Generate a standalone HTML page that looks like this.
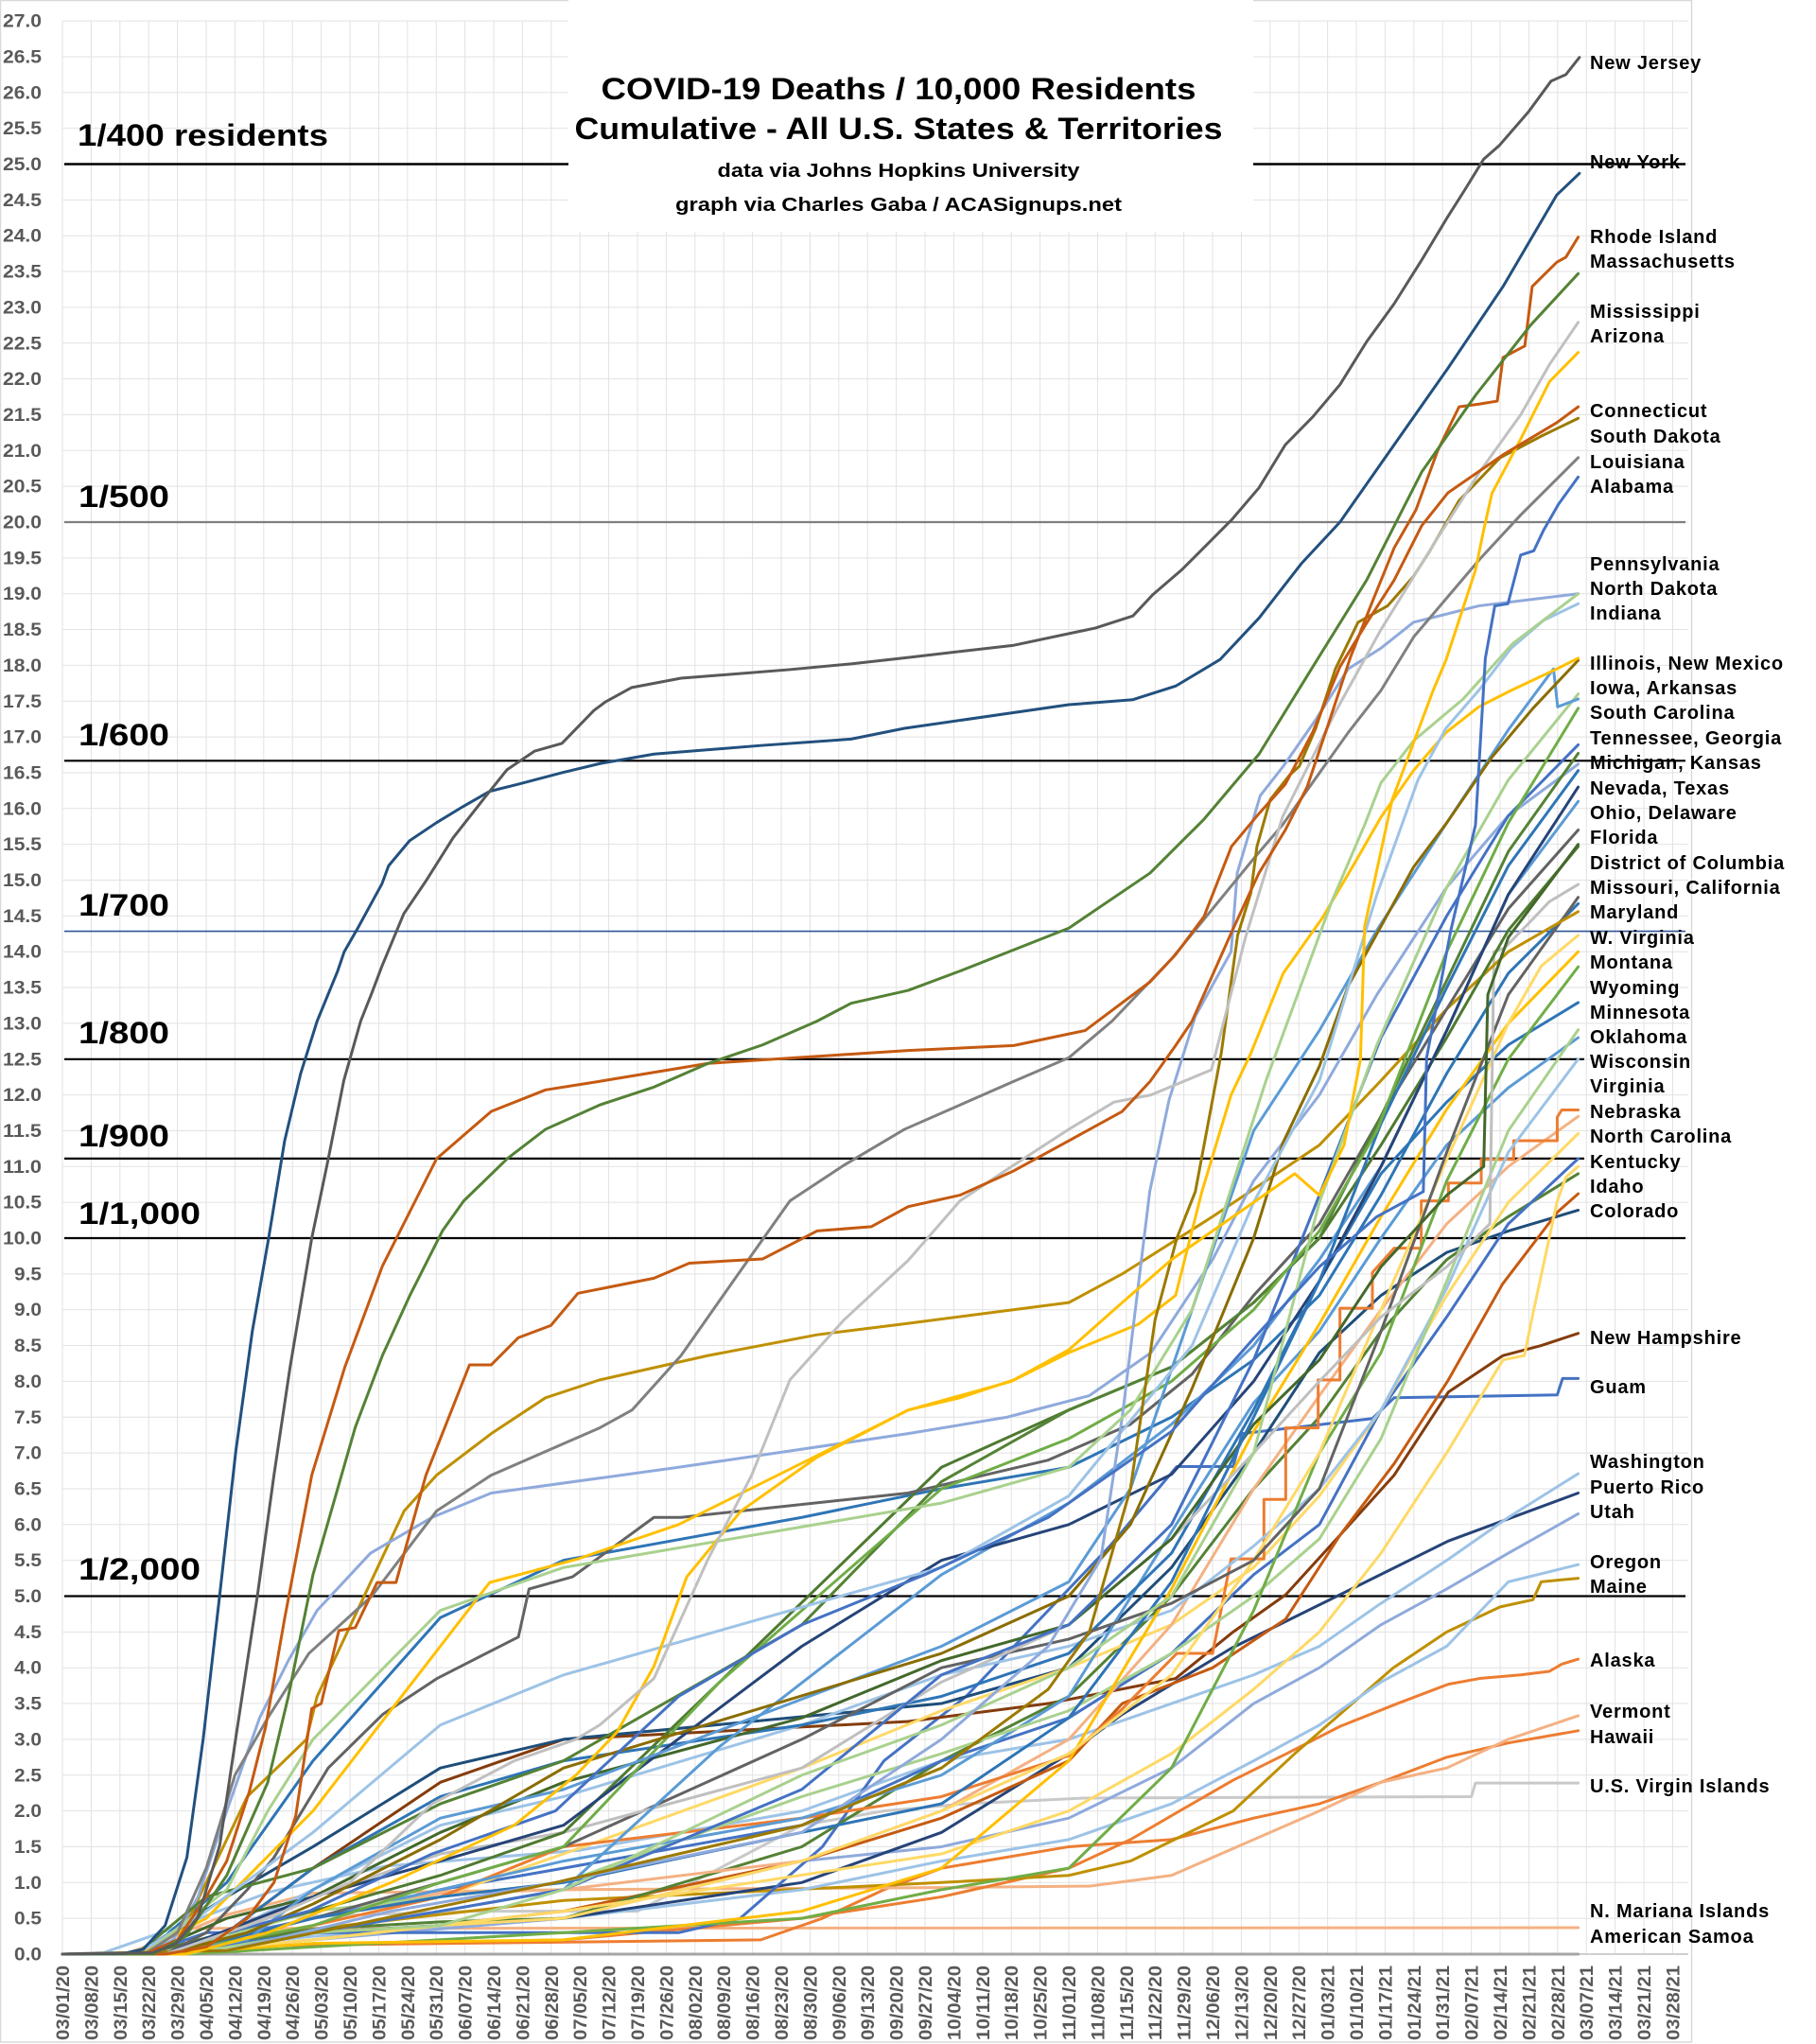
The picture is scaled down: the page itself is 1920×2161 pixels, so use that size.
<!DOCTYPE html>
<html><head><meta charset="utf-8"><style>
html,body{margin:0;padding:0;background:#fff;width:1920px;height:2161px;overflow:hidden}
svg{display:block;font-family:"Liberation Sans",Arial,sans-serif}
.g path,.s polyline{vector-effect:non-scaling-stroke}
.s polyline{fill:none;stroke-width:3;stroke-linejoin:round;stroke-linecap:round}
.yl text{font-size:19px;font-weight:bold;fill:#595959;text-anchor:end}
.xl text{font-size:19px;font-weight:bold;fill:#595959;text-anchor:end}
.rl text{font-size:20px;font-weight:bold;fill:#000;letter-spacing:0.8px}
.ll text{font-size:32px;font-weight:bold;fill:#000}
</style></head><body>
<svg width="1920" height="2161" viewBox="0 0 1920 2161" xmlns="http://www.w3.org/2000/svg">
<rect x="0" y="0" width="1920" height="2161" fill="#fff"/>
<rect x="0.5" y="0.5" width="1788" height="2158.5" fill="none" stroke="#d9d9d9" stroke-width="1.5"/>
<g class="g" transform="translate(66 2066) scale(4.343 -75.7)" fill="none" stroke="#e2e2e2" stroke-width="1">
<path d="M0,0.5H395.8M0,1H395.8M0,1.5H395.8M0,2H395.8M0,2.5H395.8M0,3H395.8M0,3.5H395.8M0,4H395.8M0,4.5H395.8M0,5H395.8M0,5.5H395.8M0,6H395.8M0,6.5H395.8M0,7H395.8M0,7.5H395.8M0,8H395.8M0,8.5H395.8M0,9H395.8M0,9.5H395.8M0,10H395.8M0,10.5H395.8M0,11H395.8M0,11.5H395.8M0,12H395.8M0,12.5H395.8M0,13H395.8M0,13.5H395.8M0,14H395.8M0,14.5H395.8M0,15H395.8M0,15.5H395.8M0,16H395.8M0,16.5H395.8M0,17H395.8M0,17.5H395.8M0,18H395.8M0,18.5H395.8M0,19H395.8M0,19.5H395.8M0,20H395.8M0,20.5H395.8M0,21H395.8M0,21.5H395.8M0,22H395.8M0,22.5H395.8M0,23H395.8M0,23.5H395.8M0,24H395.8M0,24.5H395.8M0,25H395.8M0,25.5H395.8M0,26H395.8M0,26.5H395.8M0,27H395.8"/>
<path d="M0,0V27M7,0V27M14,0V27M21,0V27M28,0V27M35,0V27M42,0V27M49,0V27M56,0V27M63,0V27M70,0V27M77,0V27M84,0V27M91,0V27M98,0V27M105,0V27M112,0V27M119,0V27M126,0V27M133,0V27M140,0V27M147,0V27M154,0V27M161,0V27M168,0V27M175,0V27M182,0V27M189,0V27M196,0V27M203,0V27M210,0V27M217,0V27M224,0V27M231,0V27M238,0V27M245,0V27M252,0V27M259,0V27M266,0V27M273,0V27M280,0V27M287,0V27M294,0V27M301,0V27M308,0V27M315,0V27M322,0V27M329,0V27M336,0V27M343,0V27M350,0V27M357,0V27M364,0V27M371,0V27M378,0V27M385,0V27M392,0V27"/>
<path d="M0,0H395.8" stroke="#bfbfbf" stroke-width="1.5"/>
</g>
<!-- reference lines -->
<g stroke-width="2.2">
<line x1="68" y1="173.5" x2="1782" y2="173.5" stroke="#000" stroke-width="2.6"/>
<line x1="68" y1="552" x2="1782" y2="552" stroke="#7f7f7f"/>
<line x1="68" y1="804.3" x2="1782" y2="804.3" stroke="#000"/>
<line x1="68" y1="984.6" x2="1782" y2="984.6" stroke="#2f5597" stroke-width="1.6"/>
<line x1="68" y1="1119.8" x2="1675" y2="1119.8" stroke="#000"/>
<line x1="68" y1="1224.9" x2="1675" y2="1224.9" stroke="#000"/>
<line x1="68" y1="1309" x2="1782" y2="1309" stroke="#000"/>
<line x1="68" y1="1687.5" x2="1782" y2="1687.5" stroke="#000"/>
</g>
<g class="s" transform="translate(66 2066) scale(4.343 -75.7)">
<polyline stroke="#a5a5a5" points="0,0 369,0"/>
<polyline stroke="#f4b183" points="0,0 29,0 30,0.36 369,0.37"/>
<polyline stroke="#c9c9c9" points="0,0 30,0 35,0.1 45,0.5 100,0.6 140,0.6 160,1.2 180,1.8 200,2 220,2.1 249,2.18 343,2.2 344,2.39 369,2.39"/>
<polyline stroke="#ed7d31" points="0,0 20,0 30,0.05 50,0.12 170,0.2 185,0.5 200,0.9 214,1.2 245,1.5 270,1.6 290,1.9 306,2.1 321,2.4 337,2.75 352,2.95 369,3.12"/>
<polyline stroke="#f4b183" points="0,0 15,0 25,0.2 40,0.55 61,0.85 122,0.9 214,0.93 250,0.95 270,1.1 290,1.6 306,2 321,2.4 337,2.6 352,3 369,3.33"/>
<polyline stroke="#ed7d31" points="0,0 25,0 35,0.1 122,0.2 180,0.5 214,0.8 245,1.2 260,1.6 272,2 285,2.43 298,2.8 311,3.18 325,3.5 337.4,3.77 345,3.85 355,3.9 362,3.95 365,4.05 369,4.12"/>
<polyline stroke="#bf9000" points="0,0 20,0 40,0.2 61,0.35 122,0.75 214,1 245,1.1 260,1.3 285,2 300,2.8 312,3.4 324,4 337,4.5 350,4.85 358,4.95 360,5.2 369,5.25"/>
<polyline stroke="#9dc3e6" points="0,0 20,0 61,0.25 122,0.5 180,0.9 214,1.3 245,1.6 270,2.1 290,2.7 306,3.2 321,3.8 337,4.3 352,5.2 369,5.44"/>
<polyline stroke="#8faadc" points="0,0 25,0 61,0.2 122,0.5 180,1.3 214,1.5 245,1.9 270,2.6 290,3.5 306,4 321,4.6 337,5.1 352,5.6 369,6.15"/>
<polyline stroke="#264478" points="0,0 20,0 40,0.1 61,0.3 122,0.5 180,1 214,1.7 245,2.8 258,3.35 284.5,4.27 311,5.02 337.4,5.77 369,6.44"/>
<polyline stroke="#9dc3e6" points="0,0 10,0.02 24,0.3 50.6,0.87 78.8,1.23 125.8,1.45 180,2 214,2.7 245,3 270,3.5 290,3.9 306,4.3 321,4.9 337,5.5 352,6.1 369,6.71"/>
<polyline stroke="#4472c4" points="0,0 20,0 35,0.3 150,0.3 165,0.5 185,1.5 200,2.7 220,3.6 240,4.8 255,5.7 271.3,6.81 285,6.81 287.2,7.27 318.9,7.48 324.2,7.77 363.9,7.81 365.2,8.04 369,8.04"/>
<polyline stroke="#843c0c" points="0,0 20,0 40,0.3 61,1.2 92,2.4 122,3 206,3.25 240,3.5 271,3.85 285,4.5 297.8,5.02 311,5.85 324.2,6.69 337.4,7.85 350.7,8.36 360,8.5 369,8.67"/>
<polyline stroke="#1f4e79" points="0,0 18,0 40,0.8 61,1.5 92,2.6 122,3 214,3.5 245,4 270,5.4 290,7 306,8.4 321,9.2 337,9.8 352,10.1 369,10.39"/>
<polyline stroke="#c55a11" points="0,0 25,0 61,0.2 122,0.6 180,1.3 214,1.9 245,2.7 258,3.5 280,4 297.8,4.68 311,5.85 324.2,6.85 337.4,8.02 350.6,9.36 363.9,10.36 369,10.62"/>
<polyline stroke="#548235" points="0,0 25,0 61,0.35 92,0.45 122,0.5 180,1.5 214,2.7 245,3.6 270,5 290,6.5 306,7.5 321,8.7 337,9.7 352,10.3 369,10.9"/>
<polyline stroke="#ffd966" points="0,0 25,0 61,0.2 122,0.6 214,1.4 245,2 270,2.8 290,3.7 306,4.5 321,5.6 337,7 350.7,8.3 355.9,8.36 358,8.95 363.9,10.52 366,10.85 369,11"/>
<polyline stroke="#4472c4" points="0,0 20,0 61,0.5 92,0.9 122,1.2 180,1.8 214,2.7 245,3.3 270,4.2 290,5.3 306,6 321,7.6 337,8.9 352,10.2 369,11.11"/>
<polyline stroke="#ffd966" points="0,0 20,0 61,0.4 92,0.8 122,1.4 180,2.6 214,3.4 245,4 270,4.6 290,5.4 306,6.4 321,7.6 337,9.2 352,10.5 369,11.46"/>
<polyline stroke="#f4b183" points="0,0 25,0 61,0.5 92,0.85 122,0.9 180,1.3 214,2 245,3 270,4.6 290,6.5 306,7.8 321,9 337,10.2 352,11 369,11.7"/>
<polyline stroke="#ed7d31" points="0,0 25,0 61,0.4 92,0.8 122,1.5 180,1.9 214,2.2 244.9,2.77 258.1,3.43 271.3,4.2 280,4.2 284.5,5.52 292.5,5.52 292.5,6.35 297.8,6.35 297.8,7.35 305.7,7.35 305.7,8.02 311,8.02 311,9.02 318.9,9.02 318.9,9.52 324.2,9.86 330.8,9.86 330.8,10.52 337.4,10.52 337.4,10.77 345.4,10.77 345.4,11.1 353.3,11.1 353.3,11.36 363.9,11.36 363.9,11.69 365,11.79 369,11.79"/>
<polyline stroke="#9dc3e6" points="0,0 20,0 40,0.3 61,0.9 92,1.8 122,2.2 180,3.2 214,3.9 245,4.3 270,4.8 290,5.7 306,6.5 321,7.6 337,9.3 352,11.2 369,12.5"/>
<polyline stroke="#5b9bd5" points="0,0 25,0 61,0.5 92,0.9 122,1.3 180,1.9 214,2.5 245,3.6 270,5.9 290,7.7 306,8.7 321,10 337,11.3 352,12.1 369,12.8"/>
<polyline stroke="#a9d18e" points="0,0 25,0 61,0.6 92,0.8 122,1 180,2.2 214,2.8 245,3.4 270,4.2 290,5 306,5.8 321,7.2 337,9.4 352,11.5 369,12.91"/>
<polyline stroke="#2e75b6" points="0,0 20,0 40,0.3 61,1.2 92,2.2 122,2.7 180,3.2 214,3.6 245,4.2 270,5.6 290,7.6 306,9.4 321,10.9 337,11.9 352,12.7 369,13.29"/>
<polyline stroke="#70ad47" points="0,0 30,0 61,0.1 122,0.3 180,0.5 214,0.9 245,1.2 270,2.6 290,4.8 306,7 321,8.4 337,10.8 352,12.5 369,13.79"/>
<polyline stroke="#ffc000" points="0,0 25,0 61,0.15 122,0.2 180,0.6 214,1.2 245,2.7 270,5.1 290,7.3 306,8.8 321,10.3 337,11.8 352,13 369,14"/>
<polyline stroke="#ffd966" points="0,0 25,0 61,0.2 92,0.4 122,0.5 180,1.3 214,2 245,2.8 270,3.9 290,5.5 306,7 321,9 337,11.1 352,13 360,13.8 369,14.23"/>
<polyline stroke="#2e75b6" points="0,0 20,0 40,1 61,2.7 92,4.7 122,5.5 180,6.1 214,6.5 245,6.8 270,7.5 290,8.3 306,9.2 321,10.6 337,12.3 352,13.7 369,14.67"/>
<polyline stroke="#636363" points="0,0 22,0 40,0.2 61,0.5 92,1 122,1.5 180,3 214,4 245,4.4 270,4.9 290,5.5 306,6.5 321,8.7 337,11.2 352,13.4 369,14.76"/>
<polyline stroke="#bfbfbf" points="0,0 22,0 40,0.3 61,0.8 92,1.4 122,1.7 180,2.6 214,3.8 245,4.6 270,5.8 290,7 306,8 321,8.9 337,9.6 347.5,10.2 348.5,14 351,14.05 357,14.4 362,14.7 369,14.94"/>
<polyline stroke="#bf9000" points="0,0 20,0 30,0.4 45,2.2 59.4,3 62,3.6 83.2,6.19 91.1,6.69 104.4,7.27 117.6,7.77 130.8,8.02 157.2,8.36 183.7,8.65 205.9,8.81 245,9.1 258,9.5 280,10.3 306,11.3 321,12.2 337,13.2 352,14 369,14.56"/>
<polyline stroke="#4e7a30" points="0,0 20,0 40,0.3 61,0.6 92,1.1 122,1.7 160,3.8 214,6.8 245,7.6 270,8.2 290,9.1 306,10 321,11.3 337,12.8 352,14.3 369,15.47"/>
<polyline stroke="#636363" points="0,0 25,0 35,0.3 45,0.9 51.5,1.35 64.7,2.6 78,3.35 91.2,3.85 111,4.43 113.6,5.1 124.2,5.27 144,6.1 150.6,6.1 205.9,6.44 240,6.9 260,7.4 275,8.1 290,9.2 306,10.2 321,11.7 337,13.2 352,14.6 369,15.7"/>
<polyline stroke="#43682b" points="0,0 20,0 40,0.5 61,0.8 92,1.7 122,2.4 180,3.3 214,4.1 245,4.6 270,5.8 290,7.4 306,8.3 321,9.6 337,10.6 346,11 347,13.4 352,14.2 369,15.5"/>
<polyline stroke="#5b9bd5" points="0,0 25,0 61,0.3 92,0.6 122,0.9 160,2.9 214,5.3 245,6.3 270,7.4 290,8.5 306,9.7 321,11 337,12.9 352,14.8 369,16.1"/>
<polyline stroke="#264478" points="0,0 25,0 61,0.8 92,1.3 122,1.8 180,4.3 214,5.5 245,6 270,6.7 290,8 306,9.4 321,11 337,12.9 352,14.8 369,16.3"/>
<polyline stroke="#2e75b6" points="0,0 25,0 61,0.5 92,0.8 122,1 180,1.7 214,2.1 245,3.3 270,5.2 290,7.5 306,9.4 321,11.6 337,13.5 352,15.2 369,16.53"/>
<polyline stroke="#8faadc" points="0,0 20,0 27,0.2 33,0.8 40,2 48,3.3 55,4.1 62,4.8 75,5.6 90,6.1 104.4,6.44 150,6.8 205.9,7.27 230,7.5 250,7.8 265,8.4 280,9.7 290,10.8 306,12 320,13.4 337,14.9 352,15.9 369,16.62"/>
<polyline stroke="#548235" points="0,0 18,0 35,0.8 61,1.2 92,2.1 122,2.7 180,4.6 214,6.6 245,7.6 270,8.2 290,9.1 306,10 321,11.7 337,13.6 352,15.4 369,16.77"/>
<polyline stroke="#4472c4" points="0,0 25,0 61,0.3 92,0.6 122,0.9 180,2.3 214,3.9 245,4.6 270,6 290,8.3 306,10.6 321,12.8 337,14.5 352,15.9 369,16.89"/>
<polyline stroke="#70ad47" points="0,0 25,0 61,0.4 92,1 122,1.5 160,3.8 214,6.5 245,7.2 270,8 290,9 306,10.1 320,11.5 337,14 352,15.8 369,17.4"/>
<polyline stroke="#a9d18e" points="0,0 30,0 61,0.3 92,0.4 122,0.9 180,2.5 214,3.2 245,4 270,5 290,7 306,10.5 320,12.7 337,14.9 352,16.4 369,17.6"/>
<polyline stroke="#5b9bd5" points="0,0 25,0 45,0.2 61,0.9 92,1.9 122,2.3 214,4.3 245,5.2 260,6.5 275,9 290,11.5 306,12.9 320,14.3 337,15.8 352,17.1 363,17.95 364,17.42 369,17.53"/>
<polyline stroke="#8a6d00" points="0,0 25,0 45,0.3 61,0.7 92,1.6 122,2.6 214,4.2 245,5 260,6 275,7.9 290,10 297.2,11.34 306,12.4 313,13.52 328.9,15.18 337,15.8 347.9,16.71 358,17.4 369,18.07"/>
<polyline stroke="#ffc000" points="0,0 18,0 35,0.5 61,2 92,4.3 104,5.19 125.5,5.52 150,6 206,7.6 231,8 245,8.4 262,8.8 271,9.2 277.4,10.65 284.5,12 289.3,12.58 297.2,13.7 306.7,14.47 314.6,15.24 321,15.88 328.9,16.53 336.8,17.06 344.8,17.42 352.7,17.65 363.8,17.95 369,18.1"/>
<polyline stroke="#9dc3e6" points="0,0 18,0 35,0.6 61,1.7 92,3.2 122,3.9 214,5.4 245,6.4 275,8.5 290,10.5 306,12.2 320,14.8 330,16.4 336.8,17.12 344.8,17.65 352.7,18.24 360.6,18.63 369,18.86"/>
<polyline stroke="#8faadc" points="0,0 40,0.05 80,0.6 120,1 180,1.7 214,3 240,4.3 252.8,5.52 258,7.5 264.7,10.65 269.4,11.93 275.8,13.1 284.5,14 286,15.1 291.6,16.18 297.2,16.59 305.1,17.24 313,17.95 321,18.24 328.9,18.6 344.8,18.83 369,19"/>
<polyline stroke="#a9d18e" points="0,0 20,0 40,0.9 50,2 61,3 92,4.8 122,5.4 214,6.3 245,6.8 260,7.6 275,9 293,12.2 309,14.7 317,15.77 321,16.36 329,16.95 341,17.53 353,18.3 369,19"/>
<polyline stroke="#4472c4" points="0,0 25,0 40,0.3 60,0.6 90,1.4 120,2 150,3.6 180,4.6 210,5.3 240,6.1 270,7.3 290,8.6 306,9.6 320,10.3 331.3,10.65 332.1,12.52 338,14.3 344,15.77 346.4,18.1 348.7,18.83 351.9,18.86 355,19.54 358.2,19.6 360.6,19.89 364.2,20.25 369,20.63"/>
<polyline stroke="#808080" points="0,0 20,0 28,0.3 35,1.2 42,2.5 50,3.3 60,4.2 75.3,5 91.1,6.19 104.4,6.69 117.6,7.02 130.8,7.35 138.7,7.6 150.6,8.36 163.8,9.44 177.1,10.52 190.3,11.02 205,11.52 218.5,11.86 231.6,12.19 245,12.52 255.5,13.03 270,13.9 290,15.3 297,15.77 313,17.06 321,17.65 329,18.4 345,19.48 355,20.1 369,20.9"/>
<polyline stroke="#9c7a00" points="0,0 40,0.05 70,0.4 120,1 180,1.8 214,2.6 240,3.7 250,4.5 260,6.5 266,8.86 271.3,10 275.8,10.65 282.1,12.58 286.1,14.23 289.3,14.82 290.8,15.47 294,16.12 298.8,16.47 301.1,16.59 305.1,17.12 309.9,17.95 315.4,18.6 322.6,18.83 328.9,19.24 332.9,19.6 340,20.3 350,20.9 360,21.2 369,21.45"/>
<polyline stroke="#ffc000" points="0,0 30,0 50,0.3 80,1 110,1.8 125,2.5 135,3.1 144,4.02 152,5.27 165.2,6.19 183.7,6.94 205.9,7.6 218.5,7.77 231.6,8.02 245,8.44 258,9.1 270,9.7 285,10.3 300,10.9 306,10.6 312,11.3 316,12.5 317,14.35 323.7,16.12 333.7,17.65 336.8,18.07 344,19.33 346,19.89 348,20.4 355,21.16 362,21.96 369,22.37"/>
<polyline stroke="#c0c0c0" points="0,0 25,0 35,0.2 50,0.5 70,1 90,2.1 110,2.7 125,3 130.8,3.2 144,3.85 157.2,5.52 167.8,6.69 177.1,8.02 190.3,8.86 205.9,9.69 218.5,10.52 231.6,11.02 245,11.52 256,11.9 265,12 279.7,12.35 288,14.2 297,15.88 310,17.36 321,18.5 335,19.8 345,20.7 355,21.5 362,22.2 369,22.79"/>
<polyline stroke="#c55a11" points="0,0 25,0 35,0.1 45,0.5 51.5,1 56.8,1.93 60.7,3.43 63,3.5 67.3,4.52 71.3,4.56 76.6,5.19 81.2,5.19 88.5,6.69 99.1,8.23 104.4,8.23 111,8.61 118.9,8.78 125.5,9.23 144,9.44 152.6,9.65 170.5,9.71 183.7,10.1 196.9,10.16 205.9,10.44 218.5,10.6 231.6,10.94 245,11.36 258,11.77 264.8,12.19 271,12.69 275,13.03 284.6,14.27 291.3,15.1 297.7,15.7 303,16.3 308.3,17.2 313.6,18.12 318.9,18.89 324.2,19.64 329.5,20.17 334.8,21 340,21.61 345,21.65 349.3,21.69 350.7,22.3 356,22.46 357.8,23.29 363.8,23.63 366,23.7 369,23.98"/>
<polyline stroke="#c55a11" points="0,0 20,0 28,0.2 35,0.8 40,1.3 45.5,2.27 49.5,3.18 54.1,4.69 60.7,6.69 68.7,8.19 77.9,9.61 85.9,10.52 91.1,11.11 104.4,11.77 117.6,12.07 130.8,12.19 157.2,12.44 192,12.57 205.9,12.62 231.6,12.69 249,12.9 264.8,13.58 271,13.96 277.9,14.49 284.6,15.47 291.3,15.93 297.7,16.34 304.4,17.07 311,17.98 317.5,18.59 324.2,19.19 330.9,19.95 337.3,20.41 350.7,20.94 363.8,21.39 369,21.61"/>
<polyline stroke="#548235" points="0,0 22,0 30,0.25 40,1.1 50,2.4 55,3.6 61,5.3 66,6.3 71.3,7.36 77.9,8.36 84.5,9.19 92.5,10.1 97.7,10.52 108.3,11.11 117.6,11.52 130.8,11.86 144,12.11 157.2,12.44 170.5,12.7 183.7,13.03 192,13.28 205.9,13.46 218.5,13.73 245,14.33 264.8,15.1 277.9,15.85 291.3,16.76 304.4,17.98 317.5,19.19 330.9,20.7 344,21.77 357.4,22.75 369,23.47"/>
<polyline stroke="#22507e" points="0,0 15,0.01 19.7,0.07 25,0.4 30.3,1.35 34.3,3.02 38.3,5.02 42.2,7.02 46.2,8.69 50.2,10 54.1,11.36 58,12.3 62,13.03 67,13.73 68.6,14 72,14.34 77.8,14.95 79.4,15.2 84.5,15.55 91,15.8 97.6,16.03 104,16.24 111,16.34 121.6,16.5 131,16.63 144,16.76 170,16.88 192,16.97 205,17.12 245,17.45 260.6,17.52 271,17.71 281.8,18.08 291.3,18.66 301.6,19.42 311,20 324.2,21.08 337.3,22.15 350.7,23.29 363.8,24.57 369.3,24.87"/>
<polyline stroke="#595959" points="0,0 22,0.02 27.7,0.15 33,0.52 38.3,1.52 42.2,3.02 47.5,5.02 51.5,6.69 55.4,8.19 60.7,10 64.7,11.1 68.5,12.2 72.6,13.03 75.3,13.42 77.8,13.8 83.1,14.53 88.4,14.98 95.1,15.59 102.9,16.16 108.2,16.54 114.9,16.8 121.6,16.91 129.4,17.37 132.2,17.49 138.6,17.69 150.6,17.82 177,17.94 192,18.02 205.9,18.11 231.6,18.28 251.4,18.52 260.6,18.69 265.5,18.99 272.6,19.34 284.6,20.03 291.3,20.48 297.7,21.08 304.4,21.47 311,21.92 317.5,22.52 324.2,23.05 330.9,23.66 337.3,24.27 341.5,24.65 346,25.07 349.8,25.26 356.9,25.73 362.4,26.16 366,26.25 369.3,26.49"/>
</g>
<!-- title box -->
<rect x="601" y="0" width="724" height="245" fill="#fff"/>
<g font-weight="bold" fill="#000" text-anchor="middle">
<text x="950" y="105" font-size="32" textLength="629" lengthAdjust="spacingAndGlyphs">COVID-19 Deaths / 10,000 Residents</text>
<text x="950" y="147" font-size="32" textLength="685" lengthAdjust="spacingAndGlyphs">Cumulative - All U.S. States &amp; Territories</text>
<text x="950" y="187" font-size="20.5" textLength="383" lengthAdjust="spacingAndGlyphs">data via Johns Hopkins University</text>
<text x="950" y="223" font-size="20.5" textLength="472" lengthAdjust="spacingAndGlyphs">graph via Charles Gaba / ACASignups.net</text>
</g>
<g class="ll">
<text x="82" y="154" textLength="265" lengthAdjust="spacingAndGlyphs">1/400 residents</text>
<text x="83" y="536" textLength="96" lengthAdjust="spacingAndGlyphs">1/500</text>
<text x="83" y="788" textLength="96" lengthAdjust="spacingAndGlyphs">1/600</text>
<text x="83" y="968" textLength="96" lengthAdjust="spacingAndGlyphs">1/700</text>
<text x="83" y="1103" textLength="96" lengthAdjust="spacingAndGlyphs">1/800</text>
<text x="83" y="1212" textLength="96" lengthAdjust="spacingAndGlyphs">1/900</text>
<text x="83" y="1294" textLength="129" lengthAdjust="spacingAndGlyphs">1/1,000</text>
<text x="83" y="1670" textLength="129" lengthAdjust="spacingAndGlyphs">1/2,000</text>
</g>
<g class="yl">
<text x="44" y="2072.5" textLength="29" lengthAdjust="spacingAndGlyphs">0.0</text>
<text x="44" y="2034.7" textLength="29" lengthAdjust="spacingAndGlyphs">0.5</text>
<text x="44" y="1996.8" textLength="29" lengthAdjust="spacingAndGlyphs">1.0</text>
<text x="44" y="1959" textLength="29" lengthAdjust="spacingAndGlyphs">1.5</text>
<text x="44" y="1921.1" textLength="29" lengthAdjust="spacingAndGlyphs">2.0</text>
<text x="44" y="1883.3" textLength="29" lengthAdjust="spacingAndGlyphs">2.5</text>
<text x="44" y="1845.4" textLength="29" lengthAdjust="spacingAndGlyphs">3.0</text>
<text x="44" y="1807.6" textLength="29" lengthAdjust="spacingAndGlyphs">3.5</text>
<text x="44" y="1769.7" textLength="29" lengthAdjust="spacingAndGlyphs">4.0</text>
<text x="44" y="1731.9" textLength="29" lengthAdjust="spacingAndGlyphs">4.5</text>
<text x="44" y="1694" textLength="29" lengthAdjust="spacingAndGlyphs">5.0</text>
<text x="44" y="1656.2" textLength="29" lengthAdjust="spacingAndGlyphs">5.5</text>
<text x="44" y="1618.3" textLength="29" lengthAdjust="spacingAndGlyphs">6.0</text>
<text x="44" y="1580.5" textLength="29" lengthAdjust="spacingAndGlyphs">6.5</text>
<text x="44" y="1542.6" textLength="29" lengthAdjust="spacingAndGlyphs">7.0</text>
<text x="44" y="1504.8" textLength="29" lengthAdjust="spacingAndGlyphs">7.5</text>
<text x="44" y="1466.9" textLength="29" lengthAdjust="spacingAndGlyphs">8.0</text>
<text x="44" y="1429.1" textLength="29" lengthAdjust="spacingAndGlyphs">8.5</text>
<text x="44" y="1391.2" textLength="29" lengthAdjust="spacingAndGlyphs">9.0</text>
<text x="44" y="1353.4" textLength="29" lengthAdjust="spacingAndGlyphs">9.5</text>
<text x="44" y="1315.5" textLength="41" lengthAdjust="spacingAndGlyphs">10.0</text>
<text x="44" y="1277.7" textLength="41" lengthAdjust="spacingAndGlyphs">10.5</text>
<text x="44" y="1239.8" textLength="41" lengthAdjust="spacingAndGlyphs">11.0</text>
<text x="44" y="1202" textLength="41" lengthAdjust="spacingAndGlyphs">11.5</text>
<text x="44" y="1164.1" textLength="41" lengthAdjust="spacingAndGlyphs">12.0</text>
<text x="44" y="1126.3" textLength="41" lengthAdjust="spacingAndGlyphs">12.5</text>
<text x="44" y="1088.4" textLength="41" lengthAdjust="spacingAndGlyphs">13.0</text>
<text x="44" y="1050.6" textLength="41" lengthAdjust="spacingAndGlyphs">13.5</text>
<text x="44" y="1012.7" textLength="41" lengthAdjust="spacingAndGlyphs">14.0</text>
<text x="44" y="974.9" textLength="41" lengthAdjust="spacingAndGlyphs">14.5</text>
<text x="44" y="937" textLength="41" lengthAdjust="spacingAndGlyphs">15.0</text>
<text x="44" y="899.2" textLength="41" lengthAdjust="spacingAndGlyphs">15.5</text>
<text x="44" y="861.3" textLength="41" lengthAdjust="spacingAndGlyphs">16.0</text>
<text x="44" y="823.5" textLength="41" lengthAdjust="spacingAndGlyphs">16.5</text>
<text x="44" y="785.6" textLength="41" lengthAdjust="spacingAndGlyphs">17.0</text>
<text x="44" y="747.8" textLength="41" lengthAdjust="spacingAndGlyphs">17.5</text>
<text x="44" y="709.9" textLength="41" lengthAdjust="spacingAndGlyphs">18.0</text>
<text x="44" y="672.1" textLength="41" lengthAdjust="spacingAndGlyphs">18.5</text>
<text x="44" y="634.2" textLength="41" lengthAdjust="spacingAndGlyphs">19.0</text>
<text x="44" y="596.4" textLength="41" lengthAdjust="spacingAndGlyphs">19.5</text>
<text x="44" y="558.5" textLength="41" lengthAdjust="spacingAndGlyphs">20.0</text>
<text x="44" y="520.7" textLength="41" lengthAdjust="spacingAndGlyphs">20.5</text>
<text x="44" y="482.8" textLength="41" lengthAdjust="spacingAndGlyphs">21.0</text>
<text x="44" y="445" textLength="41" lengthAdjust="spacingAndGlyphs">21.5</text>
<text x="44" y="407.1" textLength="41" lengthAdjust="spacingAndGlyphs">22.0</text>
<text x="44" y="369.3" textLength="41" lengthAdjust="spacingAndGlyphs">22.5</text>
<text x="44" y="331.4" textLength="41" lengthAdjust="spacingAndGlyphs">23.0</text>
<text x="44" y="293.6" textLength="41" lengthAdjust="spacingAndGlyphs">23.5</text>
<text x="44" y="255.7" textLength="41" lengthAdjust="spacingAndGlyphs">24.0</text>
<text x="44" y="217.9" textLength="41" lengthAdjust="spacingAndGlyphs">24.5</text>
<text x="44" y="180" textLength="41" lengthAdjust="spacingAndGlyphs">25.0</text>
<text x="44" y="142.2" textLength="41" lengthAdjust="spacingAndGlyphs">25.5</text>
<text x="44" y="104.3" textLength="41" lengthAdjust="spacingAndGlyphs">26.0</text>
<text x="44" y="66.5" textLength="41" lengthAdjust="spacingAndGlyphs">26.5</text>
<text x="44" y="28.6" textLength="41" lengthAdjust="spacingAndGlyphs">27.0</text>
</g>
<g class="xl">
<text transform="translate(73,2078) rotate(-90)" textLength="79" lengthAdjust="spacingAndGlyphs">03/01/20</text>
<text transform="translate(103.4,2078) rotate(-90)" textLength="79" lengthAdjust="spacingAndGlyphs">03/08/20</text>
<text transform="translate(133.8,2078) rotate(-90)" textLength="79" lengthAdjust="spacingAndGlyphs">03/15/20</text>
<text transform="translate(164.2,2078) rotate(-90)" textLength="79" lengthAdjust="spacingAndGlyphs">03/22/20</text>
<text transform="translate(194.6,2078) rotate(-90)" textLength="79" lengthAdjust="spacingAndGlyphs">03/29/20</text>
<text transform="translate(225,2078) rotate(-90)" textLength="79" lengthAdjust="spacingAndGlyphs">04/05/20</text>
<text transform="translate(255.4,2078) rotate(-90)" textLength="79" lengthAdjust="spacingAndGlyphs">04/12/20</text>
<text transform="translate(285.8,2078) rotate(-90)" textLength="79" lengthAdjust="spacingAndGlyphs">04/19/20</text>
<text transform="translate(316.2,2078) rotate(-90)" textLength="79" lengthAdjust="spacingAndGlyphs">04/26/20</text>
<text transform="translate(346.6,2078) rotate(-90)" textLength="79" lengthAdjust="spacingAndGlyphs">05/03/20</text>
<text transform="translate(377,2078) rotate(-90)" textLength="79" lengthAdjust="spacingAndGlyphs">05/10/20</text>
<text transform="translate(407.4,2078) rotate(-90)" textLength="79" lengthAdjust="spacingAndGlyphs">05/17/20</text>
<text transform="translate(437.8,2078) rotate(-90)" textLength="79" lengthAdjust="spacingAndGlyphs">05/24/20</text>
<text transform="translate(468.2,2078) rotate(-90)" textLength="79" lengthAdjust="spacingAndGlyphs">05/31/20</text>
<text transform="translate(498.6,2078) rotate(-90)" textLength="79" lengthAdjust="spacingAndGlyphs">06/07/20</text>
<text transform="translate(529,2078) rotate(-90)" textLength="79" lengthAdjust="spacingAndGlyphs">06/14/20</text>
<text transform="translate(559.4,2078) rotate(-90)" textLength="79" lengthAdjust="spacingAndGlyphs">06/21/20</text>
<text transform="translate(589.8,2078) rotate(-90)" textLength="79" lengthAdjust="spacingAndGlyphs">06/28/20</text>
<text transform="translate(620.2,2078) rotate(-90)" textLength="79" lengthAdjust="spacingAndGlyphs">07/05/20</text>
<text transform="translate(650.6,2078) rotate(-90)" textLength="79" lengthAdjust="spacingAndGlyphs">07/12/20</text>
<text transform="translate(681,2078) rotate(-90)" textLength="79" lengthAdjust="spacingAndGlyphs">07/19/20</text>
<text transform="translate(711.4,2078) rotate(-90)" textLength="79" lengthAdjust="spacingAndGlyphs">07/26/20</text>
<text transform="translate(741.8,2078) rotate(-90)" textLength="79" lengthAdjust="spacingAndGlyphs">08/02/20</text>
<text transform="translate(772.2,2078) rotate(-90)" textLength="79" lengthAdjust="spacingAndGlyphs">08/09/20</text>
<text transform="translate(802.6,2078) rotate(-90)" textLength="79" lengthAdjust="spacingAndGlyphs">08/16/20</text>
<text transform="translate(833,2078) rotate(-90)" textLength="79" lengthAdjust="spacingAndGlyphs">08/23/20</text>
<text transform="translate(863.4,2078) rotate(-90)" textLength="79" lengthAdjust="spacingAndGlyphs">08/30/20</text>
<text transform="translate(893.8,2078) rotate(-90)" textLength="79" lengthAdjust="spacingAndGlyphs">09/06/20</text>
<text transform="translate(924.2,2078) rotate(-90)" textLength="79" lengthAdjust="spacingAndGlyphs">09/13/20</text>
<text transform="translate(954.6,2078) rotate(-90)" textLength="79" lengthAdjust="spacingAndGlyphs">09/20/20</text>
<text transform="translate(985,2078) rotate(-90)" textLength="79" lengthAdjust="spacingAndGlyphs">09/27/20</text>
<text transform="translate(1015.4,2078) rotate(-90)" textLength="79" lengthAdjust="spacingAndGlyphs">10/04/20</text>
<text transform="translate(1045.8,2078) rotate(-90)" textLength="79" lengthAdjust="spacingAndGlyphs">10/11/20</text>
<text transform="translate(1076.2,2078) rotate(-90)" textLength="79" lengthAdjust="spacingAndGlyphs">10/18/20</text>
<text transform="translate(1106.6,2078) rotate(-90)" textLength="79" lengthAdjust="spacingAndGlyphs">10/25/20</text>
<text transform="translate(1137,2078) rotate(-90)" textLength="79" lengthAdjust="spacingAndGlyphs">11/01/20</text>
<text transform="translate(1167.4,2078) rotate(-90)" textLength="79" lengthAdjust="spacingAndGlyphs">11/08/20</text>
<text transform="translate(1197.8,2078) rotate(-90)" textLength="79" lengthAdjust="spacingAndGlyphs">11/15/20</text>
<text transform="translate(1228.2,2078) rotate(-90)" textLength="79" lengthAdjust="spacingAndGlyphs">11/22/20</text>
<text transform="translate(1258.6,2078) rotate(-90)" textLength="79" lengthAdjust="spacingAndGlyphs">11/29/20</text>
<text transform="translate(1289,2078) rotate(-90)" textLength="79" lengthAdjust="spacingAndGlyphs">12/06/20</text>
<text transform="translate(1319.4,2078) rotate(-90)" textLength="79" lengthAdjust="spacingAndGlyphs">12/13/20</text>
<text transform="translate(1349.8,2078) rotate(-90)" textLength="79" lengthAdjust="spacingAndGlyphs">12/20/20</text>
<text transform="translate(1380.2,2078) rotate(-90)" textLength="79" lengthAdjust="spacingAndGlyphs">12/27/20</text>
<text transform="translate(1410.6,2078) rotate(-90)" textLength="79" lengthAdjust="spacingAndGlyphs">01/03/21</text>
<text transform="translate(1441,2078) rotate(-90)" textLength="79" lengthAdjust="spacingAndGlyphs">01/10/21</text>
<text transform="translate(1471.4,2078) rotate(-90)" textLength="79" lengthAdjust="spacingAndGlyphs">01/17/21</text>
<text transform="translate(1501.8,2078) rotate(-90)" textLength="79" lengthAdjust="spacingAndGlyphs">01/24/21</text>
<text transform="translate(1532.2,2078) rotate(-90)" textLength="79" lengthAdjust="spacingAndGlyphs">01/31/21</text>
<text transform="translate(1562.6,2078) rotate(-90)" textLength="79" lengthAdjust="spacingAndGlyphs">02/07/21</text>
<text transform="translate(1593,2078) rotate(-90)" textLength="79" lengthAdjust="spacingAndGlyphs">02/14/21</text>
<text transform="translate(1623.4,2078) rotate(-90)" textLength="79" lengthAdjust="spacingAndGlyphs">02/21/21</text>
<text transform="translate(1653.8,2078) rotate(-90)" textLength="79" lengthAdjust="spacingAndGlyphs">02/28/21</text>
<text transform="translate(1684.2,2078) rotate(-90)" textLength="79" lengthAdjust="spacingAndGlyphs">03/07/21</text>
<text transform="translate(1714.6,2078) rotate(-90)" textLength="79" lengthAdjust="spacingAndGlyphs">03/14/21</text>
<text transform="translate(1745,2078) rotate(-90)" textLength="79" lengthAdjust="spacingAndGlyphs">03/21/21</text>
<text transform="translate(1775.4,2078) rotate(-90)" textLength="79" lengthAdjust="spacingAndGlyphs">03/28/21</text>
</g>
<g class="rl">
<text x="1681" y="73">New Jersey</text>
<text x="1681" y="178">New York</text>
<text x="1681" y="257">Rhode Island</text>
<text x="1681" y="283">Massachusetts</text>
<text x="1681" y="336">Mississippi</text>
<text x="1681" y="362">Arizona</text>
<text x="1681" y="441">Connecticut</text>
<text x="1681" y="468">South Dakota</text>
<text x="1681" y="495">Louisiana</text>
<text x="1681" y="521">Alabama</text>
<text x="1681" y="603">Pennsylvania</text>
<text x="1681" y="629">North Dakota</text>
<text x="1681" y="655">Indiana</text>
<text x="1681" y="708">Illinois, New Mexico</text>
<text x="1681" y="734">Iowa, Arkansas</text>
<text x="1681" y="760">South Carolina</text>
<text x="1681" y="787">Tennessee, Georgia</text>
<text x="1681" y="813">Michigan, Kansas</text>
<text x="1681" y="840">Nevada, Texas</text>
<text x="1681" y="866">Ohio, Delaware</text>
<text x="1681" y="892">Florida</text>
<text x="1681" y="919">District of Columbia</text>
<text x="1681" y="945">Missouri, California</text>
<text x="1681" y="971">Maryland</text>
<text x="1681" y="998">W. Virginia</text>
<text x="1681" y="1024">Montana</text>
<text x="1681" y="1051">Wyoming</text>
<text x="1681" y="1077">Minnesota</text>
<text x="1681" y="1103">Oklahoma</text>
<text x="1681" y="1129">Wisconsin</text>
<text x="1681" y="1155">Virginia</text>
<text x="1681" y="1182">Nebraska</text>
<text x="1681" y="1208">North Carolina</text>
<text x="1681" y="1235">Kentucky</text>
<text x="1681" y="1261">Idaho</text>
<text x="1681" y="1287">Colorado</text>
<text x="1681" y="1421">New Hampshire</text>
<text x="1681" y="1473">Guam</text>
<text x="1681" y="1552">Washington</text>
<text x="1681" y="1579">Puerto Rico</text>
<text x="1681" y="1605">Utah</text>
<text x="1681" y="1658">Oregon</text>
<text x="1681" y="1684">Maine</text>
<text x="1681" y="1762">Alaska</text>
<text x="1681" y="1816">Vermont</text>
<text x="1681" y="1843">Hawaii</text>
<text x="1681" y="1895">U.S. Virgin Islands</text>
<text x="1681" y="2027">N. Mariana Islands</text>
<text x="1681" y="2054">American Samoa</text>
</g>
</svg>
</body></html>
